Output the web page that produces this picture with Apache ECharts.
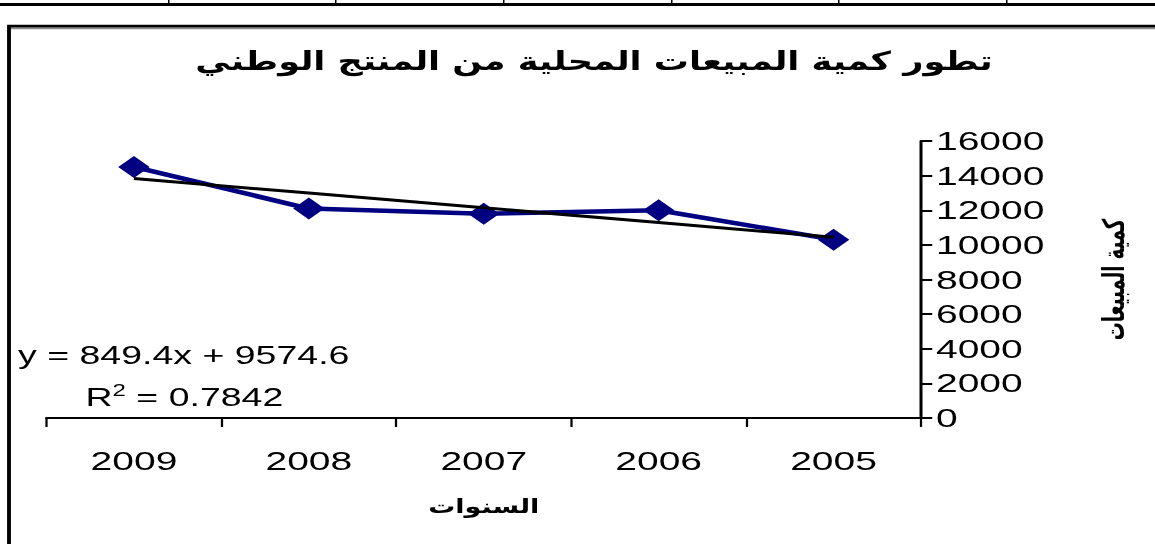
<!DOCTYPE html>
<html>
<head>
<meta charset="utf-8">
<script src="https://cdn.jsdelivr.net/npm/echarts@6/dist/echarts.min.js"></script>
<style>
  html, body { margin: 0; padding: 0; overflow: hidden; background: #fff; }
  /* the source picture is stretched sideways, so the chart is drawn narrow and widened */
  #main { width: 770px; height: 544px; transform: scaleX(1.5); transform-origin: 0 0; }
</style>
</head>
<body>
<div id="main"></div>
<script>
var years = ['2009', '2008', '2007', '2006', '2005'];
var sales = [14500, 12100, 11800, 12000, 10300];
var yTicks = [0, 2000, 4000, 6000, 8000, 10000, 12000, 14000, 16000];
var titleText = 'تطور كمية المبيعات المحلية من المنتج الوطني';
var xName = 'السنوات';
var yName = 'كمية المبيعات';
var eqText = 'y = 849.4x + 9574.6';
var r2Text = '0.7842';

// linear trend line (least squares over the category index)
var n = sales.length, sx = 0, sy = 0, sxy = 0, sxx = 0;
for (var i = 0; i < n; i++) {
    sx += i; sy += sales[i]; sxy += i * sales[i]; sxx += i * i;
}
var slope = (n * sxy - sx * sy) / (n * sxx - sx * sx);
var icpt = (sy - slope * sx) / n;
var trend = sales.map(function (v, i) { return Math.round(icpt + slope * i); });

var S = 1.5;
var num = 'Liberation Sans, Arial, sans-serif';
var ar = 'DejaVu Sans Condensed, DejaVu Sans, sans-serif';

//table row above the chart
var topLines = [
    {type: 'rect', shape: {x: 0, y: 3, width: 770, height: 3}, style: {fill: '#000'}}
];
[168, 335, 503, 671, 838, 1006].forEach(function (x) {
    topLines.push({type: 'rect', shape: {x: x / S, y: 0, width: 1, height: 5}, style: {fill: '#000'}});
});

var chart = echarts.init(document.getElementById('main'), null, {renderer: 'svg'});
chart.setOption({
    animation: false,
    title: {
        text: titleText,
        left: 391,
        textAlign: 'center',
        top: 43,
        textStyle: {fontFamily: ar, fontSize: 26, fontWeight: 'bold', color: '#000'}
    },
    grid: {left: 31, right: 156, top: 141, bottom: 126, containLabel: false},
    xAxis: {
        type: 'category',
        data: years,
        boundaryGap: true,
        name: xName,
        nameLocation: 'middle',
        nameGap: 78,
        nameTextStyle: {fontFamily: ar, fontSize: 20, fontWeight: 'bold', color: '#000'},
        axisLine: {show: true, lineStyle: {color: '#000', width: 2}},
        axisTick: {show: true, length: 9, lineStyle: {color: '#000', width: 1.5}},
        axisLabel: {margin: 30, fontFamily: num, fontSize: 26, color: '#000'},
        splitLine: {show: false}
    },
    yAxis: {
        type: 'value',
        position: 'right',
        min: yTicks[0],
        max: yTicks[yTicks.length - 1],
        interval: 2000,
        name: yName,
        nameLocation: 'middle',
        nameRotate: 90,
        nameGap: 118,
        nameTextStyle: {fontFamily: ar, fontSize: 20, fontWeight: 'bold', color: '#000'},
        axisLine: {show: true, onZero: false, lineStyle: {color: '#000', width: 2}},
        axisTick: {show: true, length: 7.5, lineStyle: {color: '#000', width: 2}},
        axisLabel: {
            margin: 10, fontFamily: num, fontSize: 26, color: '#000',
            formatter: function (v) { return String(v); }
        },
        splitLine: {show: false}
    },
    series: [
        {
            name: 'sales',
            type: 'line',
            data: sales,
            symbol: 'diamond',
            symbolSize: [21, 22],
            itemStyle: {color: '#000080'},
            lineStyle: {color: '#000080', width: 4.5},
            z: 2
        },
        {
            name: 'trend',
            type: 'line',
            data: trend,
            symbol: 'none',
            lineStyle: {color: '#000', width: 3},
            z: 3
        }
    ],
    graphic: topLines.concat([
        {
            type: 'rect',
            shape: {x: 6, y: 26, width: 800, height: 560},
            style: {fill: 'none', stroke: '#000', lineWidth: 2.5, shadowColor: 'rgba(0,0,0,0.45)', shadowOffsetY: 2, shadowBlur: 1}
        },
        {
            type: 'text',
            x: 12,
            y: 355,
            style: {text: eqText, font: '25px ' + num, fill: '#000', verticalAlign: 'middle'}
        },
        {
            type: 'text',
            x: 57,
            y: 397,
            style: {
                text: '{a|R}{s|2}{a| = ' + r2Text + '}',
                verticalAlign: 'middle',
                rich: {
                    a: {fontFamily: num, fontSize: 25, color: '#000'},
                    s: {fontFamily: num, fontSize: 16, color: '#000', padding: [0, 0, 13, 0]}
                }
            }
        }
    ])
});
</script>
</body>
</html>
